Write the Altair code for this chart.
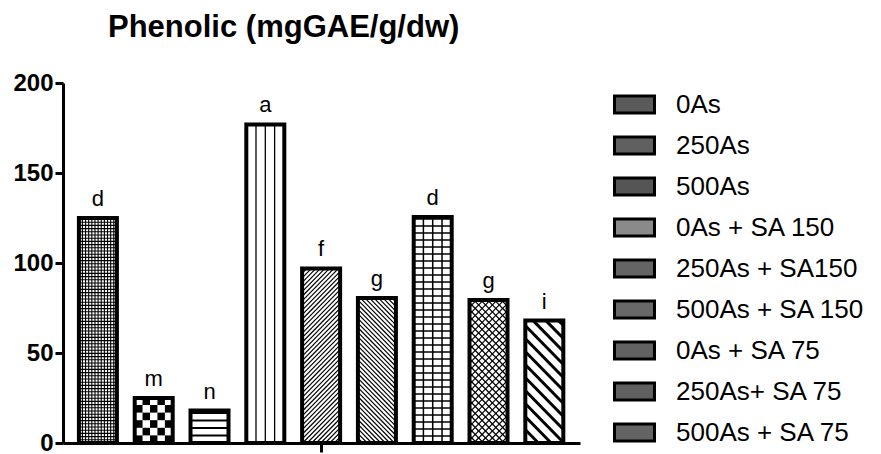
import altair as alt
import pandas as pd

# ---- data ----
treatments = ["0As", "250As", "500As", "0As + SA 150", "250As + SA150",
              "500As + SA 150", "0As  + SA 75", "250As+ SA 75", "500As + SA 75"]
values = [125, 25, 18, 177, 97, 80.5, 125.5, 79.5, 68]
letters = ["d", "m", "n", "a", "f", "g", "d", "g", "i"]
y_ticks = [0, 50, 100, 150, 200]

# ---- layout / style ----
W, H = 517, 360
XMIN, XMAX = -0.536, 8.55
YMAX = 200
px_x = W / (XMAX - XMIN)
px_y = H / YMAX
BAR_PX = 38
FONT = "Liberation Sans"

# hatch style for each bar (pixel based)
patterns = [
    ("grid", 3.2, 3.2, 1.1),
    ("checker", 7.6),
    ("h", 7.5, 2.2),
    ("v", 9.5, 1.3),
    ("up", 4.6, 1.2),
    ("down", 4.6, 1.2),
    ("grid", 9.5, 7.0, 1.5),
    ("cross", 7.0, 1.2),
    ("down", 13.0, 3.0),
]
legend_tones = ["#5a5a5a", "#606060", "#555555", "#8a8a8a", "#646464",
                "#686868", "#626262", "#606060", "#646464"]

segs, cells = [], []
for i, (v, p) in enumerate(zip(values, patterns)):
    w, h = BAR_PX, v * px_y
    left = i - (w / 2) / px_x

    def add(x0, y0, x1, y1, sw):
        segs.append(dict(x=left + x0 / px_x, x2=left + x1 / px_x,
                         y=y0 / px_y, y2=y1 / px_y, sw=sw))

    def diag_up(s, sw):
        c = -h
        while c < w:
            xl, xh = max(0, c), min(w, h + c)
            if xl < xh:
                add(xl, xl - c, xh, xh - c, sw)
            c += s

    def diag_down(s, sw):
        c = 0.0
        while c < w + h:
            xl, xh = max(0, c - h), min(w, c)
            if xl < xh:
                add(xl, c - xl, xh, c - xh, sw)
            c += s

    kind = p[0]
    if kind == "grid":
        sx, sy, sw = p[1:]
        k = sx
        while k < w:
            add(k, 0, k, h, sw); k += sx
        k = sy
        while k < h:
            add(0, k, w, k, sw); k += sy
    elif kind == "h":
        s, sw = p[1:]
        k = s
        while k < h:
            add(0, k, w, k, sw); k += s
    elif kind == "v":
        s, sw = p[1:]
        k = s
        while k < w - 1:
            add(k, 0, k, h, sw); k += s
    elif kind == "up":
        diag_up(*p[1:])
    elif kind == "down":
        diag_down(*p[1:])
    elif kind == "cross":
        diag_up(*p[1:]); diag_down(*p[1:])
    elif kind == "checker":
        s = p[1]
        r = 0
        while r * s < h:
            c = 0
            while c * s < w:
                if (r + c) % 2 == 0:
                    cells.append(dict(x=left + c * s / px_x,
                                      x2=left + min(w, (c + 1) * s) / px_x,
                                      y=r * s / px_y,
                                      y2=min(h, (r + 1) * s) / px_y))
                c += 1
            r += 1

df = pd.DataFrame({"idx": list(range(len(treatments))), "treatment": treatments,
                   "value": values, "letter": letters})
seg_df = pd.DataFrame(segs)
cell_df = pd.DataFrame(cells)

xs = alt.Scale(domain=[XMIN, XMAX], nice=False, zero=False)
ys = alt.Scale(domain=[0, YMAX], nice=False)

x_axis = alt.Axis(values=[4], labels=False, title=None, grid=False, tickSize=9,
                  tickWidth=3, domainWidth=3, domainColor="black", tickColor="black")
y_axis = alt.Axis(values=y_ticks, title=None, grid=False, tickSize=8, tickWidth=3,
                  domainWidth=3, domainColor="black", tickColor="black",
                  labelFont=FONT, labelFontSize=24, labelFontWeight="bold",
                  labelColor="black", labelPadding=2)

base = alt.Chart(df)

bg = base.mark_bar(size=BAR_PX, fill="white", strokeWidth=0).encode(
    x=alt.X("idx:Q", scale=xs, axis=x_axis),
    y=alt.Y("value:Q", scale=ys, axis=y_axis),
)

cell_layer = alt.Chart(cell_df).mark_rect(fill="black", strokeWidth=0).encode(
    x=alt.X("x:Q", scale=xs), x2="x2:Q",
    y=alt.Y("y:Q", scale=ys), y2="y2:Q",
)

hatch = alt.Chart(seg_df).mark_rule(color="black").encode(
    x=alt.X("x:Q", scale=xs), x2="x2:Q",
    y=alt.Y("y:Q", scale=ys), y2="y2:Q",
    strokeWidth=alt.StrokeWidth("sw:Q", scale=None),
)

outline = base.mark_bar(size=BAR_PX, fillOpacity=0, stroke="black",
                        strokeWidth=4).encode(
    x=alt.X("idx:Q", scale=xs),
    y=alt.Y("value:Q", scale=ys),
)

labels = base.mark_text(dy=-7, baseline="bottom", fontSize=22, font=FONT,
                        color="black").encode(
    x=alt.X("idx:Q", scale=xs),
    y=alt.Y("value:Q", scale=ys),
    text="letter:N",
)

legend_layer = base.mark_point(filled=True, opacity=0, size=1).encode(
    x=alt.X("idx:Q", scale=xs),
    y=alt.Y("value:Q", scale=ys),
    fill=alt.Fill("treatment:N", sort=treatments,
                  scale=alt.Scale(domain=treatments, range=legend_tones),
                  legend=alt.Legend(
                      title=None, orient="none", legendX=550, legendY=0,
                      symbolType="M-1,-0.42H1V0.42H-1Z", symbolSize=1600,
                      symbolStrokeColor="black", symbolStrokeWidth=3,
                      symbolOpacity=1, labelFontSize=26, labelFont=FONT,
                      labelColor="black", labelLimit=400, rowPadding=5,
                      labelOffset=20, padding=0)),
)

chart = alt.layer(bg, cell_layer, hatch, outline, labels, legend_layer).properties(
    width=W, height=H,
    padding={"left": 55, "top": 75, "right": 292, "bottom": 12},
    autosize=alt.AutoSizeParams(type="none"),
    title=alt.TitleParams("Phenolic (mgGAE/g/dw)", font=FONT, fontSize=31,
                          fontWeight="bold", color="black", anchor="start",
                          frame="group", dx=45, offset=27),
).configure_view(stroke=None)

chart.save("out.html", embed_options={"renderer": "svg", "actions": False})
